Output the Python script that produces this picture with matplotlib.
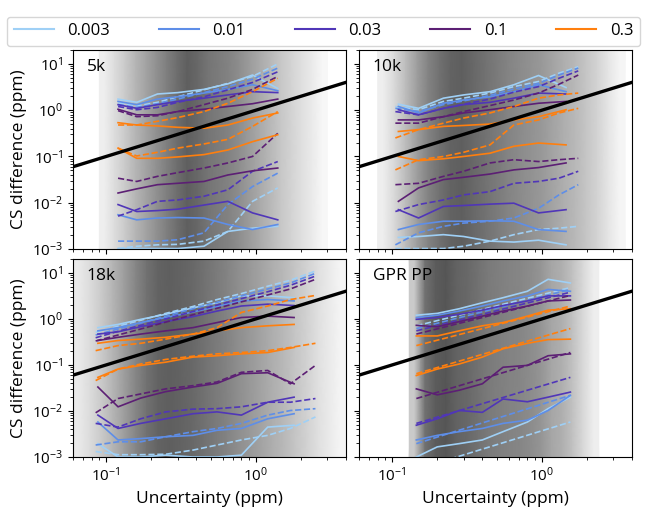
import numpy as np
import matplotlib
matplotlib.use("Agg")
import matplotlib.pyplot as plt
from matplotlib.colors import LinearSegmentedColormap
from matplotlib.lines import Line2D

plt.rcParams['font.family'] = ['Open Sans', 'DejaVu Sans']

# ---------------- data ----------------
levels = ['0.003', '0.01', '0.03', '0.1', '0.3']
level_colors = ['#9fd0f6', '#5e8ee8', '#5036b8', '#5c1f74', '#ff7f0e']
panel_names = ['5k', '10k', '18k', 'GPR PP']

# background: uncertainty distribution (bin range + relative density)
bg_5k_range = (0.09, 3.0)
bg_5k_density = [0.1, 0.2, 0.3, 0.42, 0.52, 0.62, 0.72, 0.82, 0.9, 0.85, 0.78,
                 0.74, 0.7, 0.64, 0.56, 0.48, 0.4, 0.32, 0.25, 0.18, 0.12, 0.05]
bg_10k_range = (0.08, 3.6)
bg_10k_density = [0.1, 0.22, 0.38, 0.55, 0.7, 0.8, 0.88, 0.9, 0.85, 0.8, 0.75,
                  0.7, 0.66, 0.62, 0.58, 0.52, 0.46, 0.4, 0.33, 0.25, 0.15, 0.06]
bg_18k_range = (0.06, 4.0)
bg_18k_density = [0.12, 0.2, 0.3, 0.42, 0.55, 0.68, 0.8, 0.88, 0.9, 0.88, 0.85, 0.8,
                  0.75, 0.7, 0.64, 0.58, 0.52, 0.46, 0.4, 0.33, 0.26, 0.18, 0.12, 0.06]
bg_gpr_range = (0.13, 2.4)
bg_gpr_density = [0.3, 0.8, 0.92, 0.95, 0.88, 0.85, 0.8, 0.75, 0.72, 0.7, 0.68,
                  0.65, 0.6, 0.5, 0.45, 0.35, 0.22, 0.1]

# contour lines: log10 of CS difference (ppm); rows follow `levels`
x_5k = [0.12, 0.16, 0.22, 0.3, 0.45, 0.65, 0.95, 1.4]
k5_solid_hi = [[0.24, 0.17, 0.35, 0.38, 0.45, 0.57, 0.76, 0.47],
               [0.19, 0.12, 0.24, 0.29, 0.37, 0.45, 0.55, 0.42],
               [0.12, 0.04, 0.12, 0.19, 0.26, 0.33, 0.40, 0.38],
               [0.02, -0.10, -0.10, -0.03, 0.02, 0.08, 0.14, 0.24],
               [-0.27, -0.32, -0.34, -0.37, -0.39, -0.32, -0.17, -0.06]]
k5_solid_lo = [[-2.99, -2.99, -2.99, -2.99, -2.94, -2.62, -2.55, -2.51],
               [-2.26, -2.37, -2.33, -2.32, -2.33, -2.47, -2.58, -2.47],
               [-2.04, -2.19, -2.17, -2.14, -2.05, -1.97, -2.22, -2.37],
               [-1.79, -1.70, -1.61, -1.58, -1.54, -1.40, -1.31, -1.25],
               [-0.82, -1.04, -1.04, -1.01, -0.96, -0.86, -0.68, -0.53]]
k5_dash_hi = [[0.15, 0.09, 0.17, 0.29, 0.44, 0.58, 0.73, 1.0],
              [0.12, 0.06, 0.14, 0.24, 0.38, 0.51, 0.67, 0.91],
              [0.08, 0.01, 0.06, 0.17, 0.29, 0.44, 0.60, 0.83],
              [-0.01, -0.14, -0.12, -0.03, 0.12, 0.26, 0.45, 0.73],
              [-0.32, -0.32, -0.24, -0.16, -0.03, 0.15, 0.40, 0.69]]
k5_dash_lo = [[-2.99, -2.94, -2.91, -2.90, -2.83, -2.62, -1.97, -1.68],
              [-2.83, -2.83, -2.83, -2.80, -2.65, -2.04, -1.65, -1.36],
              [-2.29, -2.15, -1.97, -1.94, -1.86, -1.72, -1.32, -1.11],
              [-1.47, -1.54, -1.43, -1.35, -1.25, -1.14, -1.0, -0.50],
              [-0.82, -0.99, -0.91, -0.82, -0.73, -0.63, -0.35, -0.03]]

x_10k_s = [0.11, 0.15, 0.22, 0.3, 0.45, 0.65, 0.95, 1.45]
x_10k_d = [0.105, 0.15, 0.22, 0.3, 0.45, 0.65, 0.95, 1.3, 1.75]
k10_solid_hi = [[0.13, 0.04, 0.26, 0.33, 0.40, 0.55, 0.75, 0.49],
                [0.08, -0.06, 0.15, 0.22, 0.29, 0.40, 0.55, 0.40],
                [0.01, -0.10, 0.04, 0.12, 0.17, 0.26, 0.37, 0.35],
                [-0.21, -0.21, -0.14, -0.06, 0.01, 0.08, 0.15, 0.19],
                [-0.46, -0.42, -0.35, -0.33, -0.30, -0.21, -0.14, 0.01]]
k10_solid_lo = [[-2.75, -2.73, -2.69, -2.73, -2.83, -2.85, -2.81, -2.91],
                [-2.58, -2.47, -2.40, -2.40, -2.39, -2.40, -2.58, -2.62],
                [-2.15, -2.33, -2.08, -2.06, -2.03, -2.01, -2.22, -2.15],
                [-1.97, -1.68, -1.50, -1.45, -1.38, -1.29, -1.24, -1.14],
                [-1.0, -1.09, -1.05, -1.0, -0.93, -0.78, -0.71, -0.75]]
k10_dash_hi = [[0.08, 0.01, 0.19, 0.26, 0.37, 0.51, 0.62, 0.80, 0.94],
               [0.04, -0.03, 0.12, 0.20, 0.32, 0.46, 0.58, 0.76, 0.91],
               [-0.03, -0.10, 0.04, 0.13, 0.24, 0.39, 0.51, 0.69, 0.85],
               [-0.28, -0.28, -0.14, -0.03, 0.10, 0.22, 0.37, 0.56, 0.76],
               [-0.60, -0.42, -0.28, -0.17, -0.06, 0.08, 0.26, 0.33, 0.37]]
k10_dash_lo = [[-2.99, -2.99, -2.99, -2.94, -2.83, -2.69, -2.58, -2.55, -2.51],
               [-2.91, -2.65, -2.51, -2.44, -2.40, -2.33, -2.12, -1.83, -1.61],
               [-2.19, -2.04, -1.94, -1.83, -1.76, -1.58, -1.54, -1.47, -1.32],
               [-1.61, -1.58, -1.43, -1.32, -1.14, -1.07, -1.11, -1.07, -1.04],
               [-1.29, -1.07, -1.0, -0.91, -0.75, -0.32, -0.21, -0.06, 0.04]]

x_18k_s = [0.088, 0.12, 0.17, 0.25, 0.38, 0.55, 0.8, 1.2, 1.8]
x_18k_d = [0.085, 0.12, 0.17, 0.25, 0.38, 0.55, 0.8, 1.2, 1.7, 2.5]
k18_solid_hi = [[-0.19, -0.12, -0.01, 0.10, 0.24, 0.35, 0.50, 0.50, 0.46],
                [-0.26, -0.19, -0.08, 0.03, 0.15, 0.27, 0.39, 0.42, 0.39],
                [-0.33, -0.28, -0.17, -0.06, 0.05, 0.17, 0.28, 0.32, 0.29],
                [-0.47, -0.40, -0.33, -0.26, -0.19, -0.08, 0.03, 0.06, 0.03],
                [-0.53, -0.47, -0.44, -0.40, -0.33, -0.26, -0.19, -0.15, -0.12]]
k18_solid_lo = [[-2.71, -3.0, -3.0, -2.96, -3.0, -3.0, -2.96, -2.35, -2.31],
                [-2.24, -2.63, -2.60, -2.56, -2.53, -2.42, -2.38, -2.17, -2.06],
                [-2.09, -2.38, -2.27, -2.17, -2.06, -2.02, -2.09, -1.81, -1.70],
                [-1.48, -1.91, -1.72, -1.58, -1.48, -1.40, -1.19, -1.17, -1.41],
                [-1.27, -1.09, -1.01, -0.94, -0.83, -0.80, -0.76, -0.73, -0.62]]
k18_dash_hi = [[-0.29, -0.16, -0.03, 0.12, 0.27, 0.42, 0.55, 0.71, 0.84, 1.04],
               [-0.35, -0.22, -0.09, 0.06, 0.22, 0.36, 0.50, 0.65, 0.78, 0.99],
               [-0.41, -0.27, -0.14, 0.0, 0.16, 0.30, 0.44, 0.59, 0.73, 0.93],
               [-0.48, -0.35, -0.22, -0.07, 0.09, 0.23, 0.37, 0.52, 0.65, 0.86],
               [-0.69, -0.58, -0.53, -0.44, -0.33, -0.19, 0.14, 0.28, 0.42, 0.51]]
k18_dash_lo = [[-2.88, -2.95, -2.95, -2.94, -2.85, -2.74, -2.63, -2.53, -2.38, -2.13],
               [-2.74, -2.67, -2.67, -2.56, -2.45, -2.38, -2.27, -2.09, -1.99, -1.95],
               [-2.27, -2.35, -2.17, -2.02, -1.96, -1.95, -1.91, -1.81, -1.81, -1.73],
               [-2.04, -1.73, -1.63, -1.52, -1.45, -1.37, -1.16, -1.12, -1.41, -1.01],
               [-1.34, -1.09, -0.98, -0.88, -0.81, -0.76, -0.73, -0.69, -0.62, -0.53]]

x_gpr_s = [0.145, 0.2, 0.28, 0.4, 0.55, 0.8, 1.1, 1.55]
x_gpr_d = [0.145, 1.55]
gpr_solid_hi = [[0.08, 0.12, 0.22, 0.35, 0.46, 0.60, 0.86, 0.78],
                [0.03, 0.08, 0.17, 0.28, 0.39, 0.50, 0.64, 0.60],
                [-0.01, 0.03, 0.10, 0.19, 0.29, 0.39, 0.50, 0.50],
                [-0.14, -0.17, -0.06, 0.06, 0.17, 0.28, 0.39, 0.41],
                [-0.37, -0.37, -0.26, -0.15, -0.08, 0.06, 0.19, 0.22]]
gpr_solid_lo = [[-3.0, -2.78, -2.71, -2.63, -2.45, -2.24, -1.95, -1.70],
                [-2.63, -2.53, -2.45, -2.38, -2.27, -2.20, -1.99, -1.66],
                [-2.31, -2.17, -1.99, -2.03, -1.74, -1.80, -1.70, -1.59],
                [-1.52, -1.65, -1.55, -1.41, -1.05, -1.01, -0.80, -0.76],
                [-1.23, -1.09, -0.98, -0.83, -0.65, -0.53, -0.45, -0.44]]
gpr_dash_hi = [[-0.15, 0.68], [-0.21, 0.64], [-0.26, 0.58], [-0.33, 0.51], [-0.58, 0.28]]
gpr_dash_lo = [[-3.27, -2.24], [-2.71, -1.66], [-2.27, -1.27], [-1.73, -0.73], [-1.19, -0.21]]

# ---------------- figure ----------------
W, H = 651, 516
fig = plt.figure(figsize=(W / 100, H / 100), dpi=100)

def fpos(x0, x1, y0, y1):
    return [x0 / W, 1 - y1 / H, (x1 - x0) / W, (y1 - y0) / H]

positions = [fpos(73, 346, 50, 249), fpos(359, 632, 50, 249),
             fpos(73, 346, 259, 457), fpos(359, 632, 259, 457)]

bg_cmap = LinearSegmentedColormap.from_list('bg', ['#ffffff', '#4e4e4e'])

panels = [
    (bg_5k_range, bg_5k_density, x_5k, k5_solid_hi, k5_solid_lo, x_5k, k5_dash_hi, k5_dash_lo),
    (bg_10k_range, bg_10k_density, x_10k_s, k10_solid_hi, k10_solid_lo, x_10k_d, k10_dash_hi, k10_dash_lo),
    (bg_18k_range, bg_18k_density, x_18k_s, k18_solid_hi, k18_solid_lo, x_18k_d, k18_dash_hi, k18_dash_lo),
    (bg_gpr_range, bg_gpr_density, x_gpr_s, gpr_solid_hi, gpr_solid_lo, x_gpr_d, gpr_dash_hi, gpr_dash_lo),
]

xlim = (0.06, 4.0)
ylim = (1e-3, 20.0)
lw = 1.2

for i, (name, pos, pdata) in enumerate(zip(panel_names, positions, panels)):
    rng, dens, xs, shi, slo, xd, dhi, dlo = pdata
    ax = fig.add_axes(pos)
    ax.set_xscale('log')
    ax.set_yscale('log')
    edges = np.logspace(np.log10(rng[0]), np.log10(rng[1]), len(dens) + 1)
    centers = np.sqrt(edges[:-1] * edges[1:])
    xc = np.concatenate([[edges[0]], centers, [edges[-1]]])
    dc = np.concatenate([[dens[0]], dens, [dens[-1]]])
    XX, YY = np.meshgrid(xc, list(ylim))
    ax.pcolormesh(XX, YY, np.vstack([dc, dc]), cmap=bg_cmap,
                  vmin=0, vmax=1, shading='gouraud', zorder=0)
    for j, c in enumerate(level_colors):
        ax.plot(xs, 10 ** np.array(shi[j]), color=c, lw=lw, zorder=2)
        ax.plot(xs, 10 ** np.array(slo[j]), color=c, lw=lw, zorder=2)
        ax.plot(xd, 10 ** np.array(dhi[j]), color=c, lw=lw, ls='--', zorder=2)
        ax.plot(xd, 10 ** np.array(dlo[j]), color=c, lw=lw, ls='--', zorder=2)
    ax.plot(xlim, xlim, color='black', lw=2.4, zorder=3)
    ax.set_xlim(*xlim)
    ax.set_ylim(*ylim)
    ax.text(0.05, 0.915, name, transform=ax.transAxes, fontsize=12.5,
            va='center', ha='left', zorder=5)
    ax.tick_params(labelsize=11)
    if i < 2:
        ax.tick_params(labelbottom=False)
    else:
        ax.set_xlabel('Uncertainty (ppm)', fontsize=12.5)
    if i % 2 == 1:
        ax.tick_params(labelleft=False)
    else:
        ax.set_ylabel('CS difference (ppm)', fontsize=12.5)

handles = [Line2D([0], [0], color=c, lw=1.5) for c in level_colors]
fig.legend(handles, levels, loc='lower left', ncol=5, mode='expand',
           bbox_to_anchor=(7 / W, 1 - 46 / H, 633 / W, 32 / H),
           fontsize=12, handlelength=2.4, frameon=True, borderaxespad=0)

fig.savefig('out.png', dpi=100)
